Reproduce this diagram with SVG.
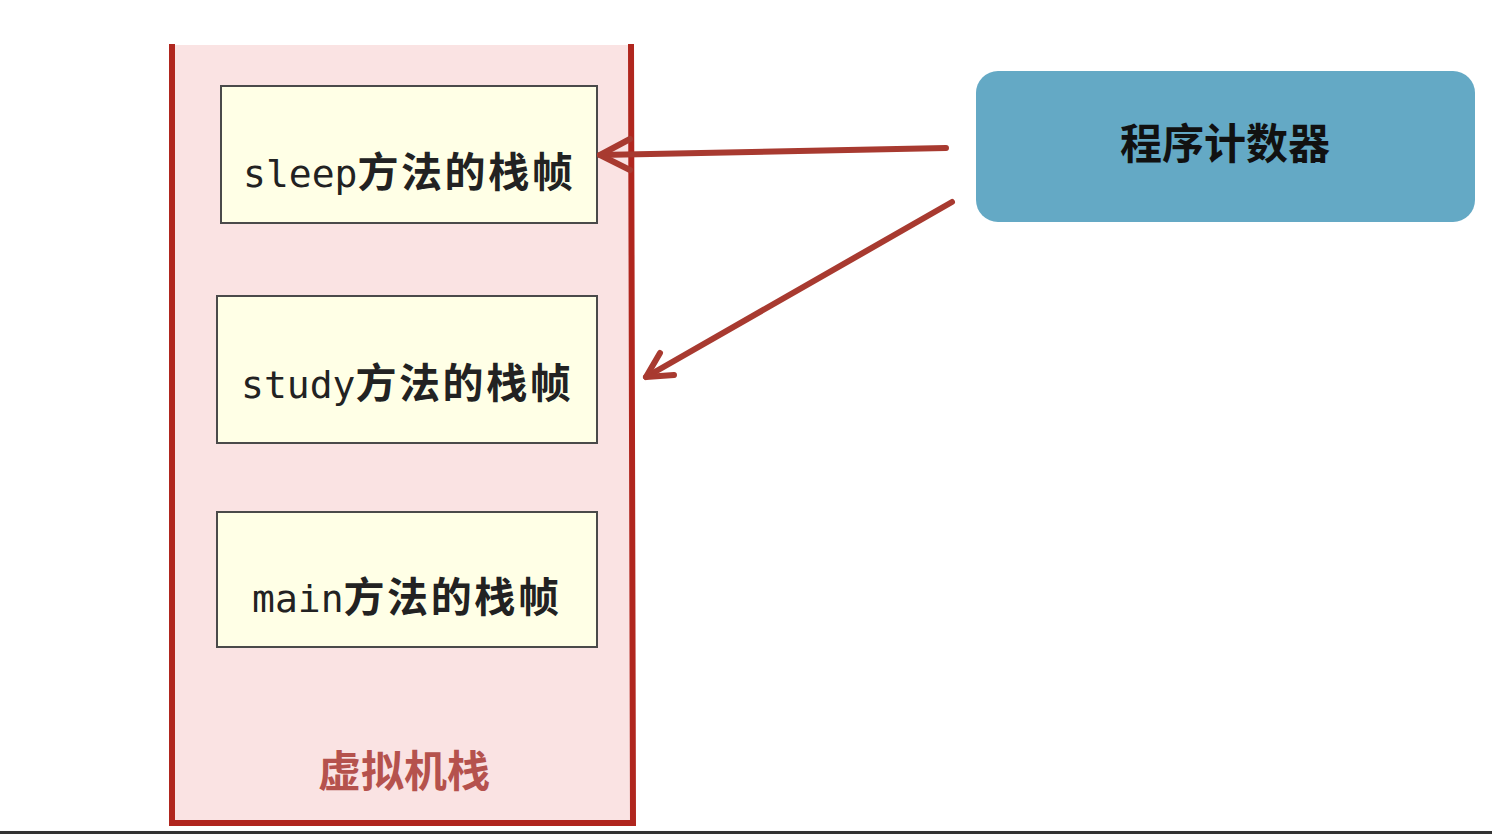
<svg xmlns="http://www.w3.org/2000/svg" width="1492" height="834" viewBox="0 0 1492 834">
<style>
.frame{fill:#ffffe6;stroke:#4a4a4a;stroke-width:2}
.lbl{font-family:"DejaVu Sans Mono","Liberation Mono",monospace;font-size:38px;fill:#222}
.cjk{font-family:"Noto Sans CJK SC",sans-serif;font-weight:bold;font-size:41px;letter-spacing:2.6px}
.conn{fill:none;stroke:#a83a30;stroke-width:6;stroke-linecap:round;stroke-linejoin:round}
</style>
<rect x="0" y="0" width="1492" height="834" fill="#ffffff"/>
<rect x="0" y="831" width="1492" height="3" fill="#333333"/>
<g id="vm-stack">
<rect x="172" y="45" width="460" height="778" fill="#fae3e3"/>
<path d="M172,44 V823 H633 L631,44" fill="none" stroke="#b0261e" stroke-width="6"/>
<text x="404" y="787" text-anchor="middle" font-family="'Noto Sans CJK SC',sans-serif" font-weight="bold" font-size="43" fill="#b5524d">虚拟机栈</text>
</g>
<g id="sleep-frame">
<rect class="frame" x="221" y="86" width="376" height="137"/>
<text class="lbl" x="243" y="187">sleep<tspan class="cjk">方法的栈帧</tspan></text>
</g>
<g id="study-frame">
<rect class="frame" x="217" y="296" width="380" height="147"/>
<text class="lbl" x="241" y="398">study<tspan class="cjk">方法的栈帧</tspan></text>
</g>
<g id="main-frame">
<rect class="frame" x="217" y="512" width="380" height="135"/>
<text class="lbl" x="252" y="612">main<tspan class="cjk">方法的栈帧</tspan></text>
</g>
<g id="pc">
<rect x="976" y="71" width="499" height="151" rx="22" ry="22" fill="#64a9c5"/>
<text x="1225" y="159" text-anchor="middle" font-family="'Noto Sans CJK SC',sans-serif" font-weight="bold" font-size="42" fill="#111">程序计数器</text>
</g>
<g id="connectors">
<path class="conn" d="M946,148 L600,155"/>
<path class="conn" d="M630,139 L600,155 L630,170"/>
<path class="conn" d="M952,202 L646,377"/>
<path class="conn" d="M660,353 L646,377 L674,375"/>
</g>
</svg>
